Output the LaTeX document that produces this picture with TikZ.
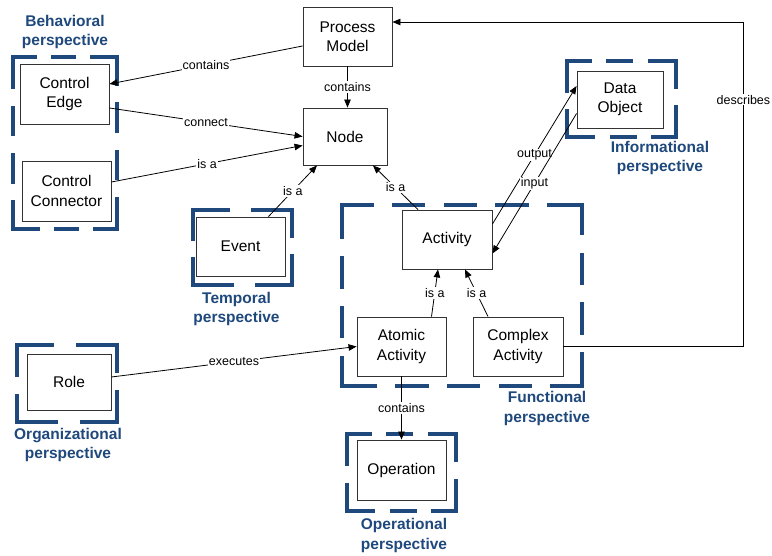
\documentclass[tikz,border=0pt]{standalone}
\usepackage{fontspec}
\setmainfont{Liberation Sans}
\usetikzlibrary{arrows.meta,calc}
\definecolor{perspblue}{RGB}{31,73,125}
\newcommand\perspLine[4]{%
  \pgfmathsetmacro\pL{veclen(#3-#1,#4-#2)}%
  \pgfmathsetmacro\pN{max(2,round((\pL+17)/48))}%
  \pgfmathsetmacro\pS{\pL/(48*\pN-17)}%
  \pgfmathsetmacro\pD{31*\pS-3.6}%
  \pgfmathsetmacro\pG{17*\pS+3.6}%
  \draw[persp, dash pattern=on \pD pt off \pG pt] (#1,#2) -- (#3,#4);}
\newcommand\perspRect[4]{%
  \perspLine{#1}{#2}{#3}{#2}
  \perspLine{#3}{#2}{#3}{#4}
  \perspLine{#3}{#4}{#1}{#4}
  \perspLine{#1}{#4}{#1}{#2}}
\begin{document}
\begin{tikzpicture}[x=1pt,y=-1pt,
 box/.style={draw=black!80, line width=0.9pt, align=center, inner sep=0pt, font=\fontsize{15.5}{19.5}\selectfont},
 lbl/.style={fill=white, inner sep=1pt, font=\fontsize{12.5}{14}\selectfont},
 conn/.style={draw=black, line width=0.8pt, -{Triangle[length=8pt,width=6.5pt]}},
 persp/.style={draw=perspblue, line width=3.6pt, line cap=rect},
 plabel/.style={text=perspblue, align=center, font=\fontsize{15.5}{19.5}\selectfont\bfseries}]
\useasboundingbox[fill=white] (0,0) rectangle (772,556);

% perspective boxes
\perspRect{13}{57}{117}{229}
\perspRect{193}{210}{292}{285}
\perspRect{342}{205}{582}{386}
\perspRect{567}{61}{676}{137}
\perspRect{17}{345}{117}{422}
\perspRect{347}{434}{456}{511}

% perspective labels
\node[plabel] (lbeh) at (65,32) {Behavioral\\perspective};
\node[plabel] (ltem) at (236.5,309) {Temporal\\perspective};
\node[plabel] (linf) at (660,158) {Informational\\perspective};
\node[plabel] (lfun) at (547,408.5) {Functional\\perspective};
\node[plabel] (lorg) at (68,445) {Organizational\\perspective};
\node[plabel] (lope) at (404,535.5) {Operational\\perspective};

% nodes
\node[box, minimum width=89pt, minimum height=59pt, fill=white] (pm) at (347.5,36.5) {Process\\Model};
\node[box, minimum width=84pt, minimum height=57pt, fill=white] (nd) at (345,136.5) {Node};
\node[box, minimum width=89pt, minimum height=60pt, fill=white] (ce) at (64.5,94) {Control\\Edge};
\node[box, minimum width=89pt, minimum height=60pt, fill=white] (cc) at (66.5,191) {Control\\Connector};
\node[box, minimum width=89pt, minimum height=59pt, fill=white] (ev) at (240.5,246.5) {Event};
\node[box, minimum width=86pt, minimum height=57pt, fill=white] (do) at (620,99.5) {Data\\Object};
\node[box, minimum width=90pt, minimum height=59pt, fill=white] (ac) at (447,239.5) {Activity};
\node[box, minimum width=89pt, minimum height=59pt, fill=white] (aa) at (401.5,346.5) {Atomic\\Activity};
\node[box, minimum width=90pt, minimum height=59pt, fill=white] (ca) at (518,346.5) {Complex\\Activity};
\node[box, minimum width=89pt, minimum height=60pt, fill=white] (op) at (401.5,470) {Operation};
\node[box, minimum width=84pt, minimum height=56pt, fill=white] (ro) at (69,382) {Role};

% connectors
\draw[conn] ($(pm.west)+(0,9.5)$) -- node[lbl]{contains} ($(ce.east)+(0,-10)$);
\draw[conn] (pm.south) -- node[lbl]{contains} (pm.south |- nd.north);
\draw[conn] ($(ce.east)+(0,14)$) -- node[lbl]{connect} (nd.west);
\draw[conn] ($(cc.east)+(0,-9)$) -- node[lbl]{is a} ($(nd.west)+(0,9)$);
\draw[conn] ($(ev.north)+(28,0)$) -- node[lbl]{is a} ($(nd.south)+(-28,0)$);
\draw[conn] ($(ac.north)+(-29,0)$) -- node[lbl]{is a} ($(nd.south)+(28,0)$);
\draw[conn] ($(ac.east)+(0,-15.5)$) -- node[lbl]{output} ($(do.west)+(0,-13.5)$);
\draw[conn] ($(do.west)+(0,14)$) -- node[lbl]{input} ($(ac.east)+(0,14)$);
\draw[conn] ($(aa.north)+(30,0)$) -- node[lbl]{is a} ($(ac.south)+(-9,0)$);
\draw[conn] ($(ca.north)+(-30,0)$) -- node[lbl]{is a} ($(ac.south)+(18,0)$);
\draw[conn] ($(ro.east)+(0,-5)$) -- node[lbl]{executes} (aa.west);
\draw[conn] (aa.south) -- node[lbl]{contains} (op.north);
\draw[conn] (ca.east) -- ++(180,0) |- node[lbl,pos=0.38]{describes} ($(pm.east)+(0,-14.5)$);
\end{tikzpicture}
\end{document}
